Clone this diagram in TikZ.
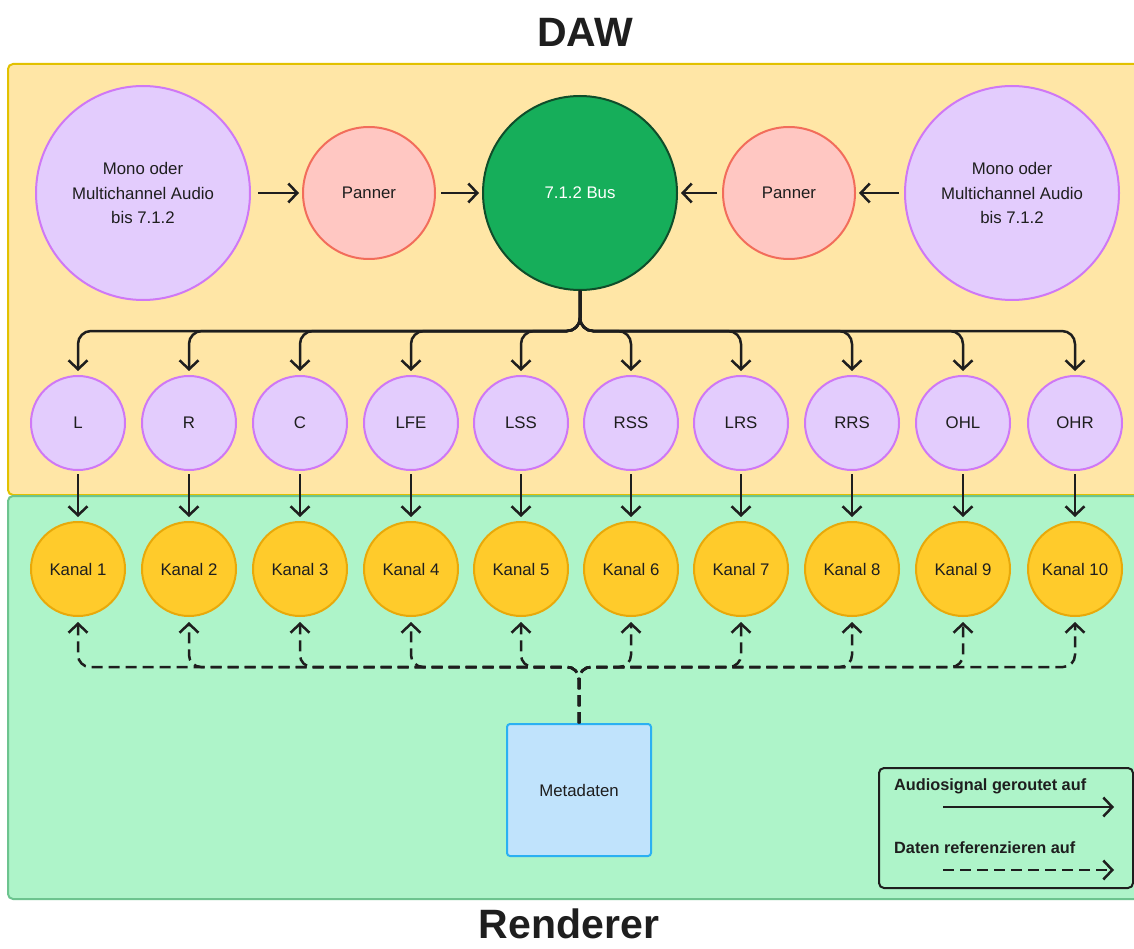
\documentclass[tikz,border=0pt]{standalone}
\usepackage{fontspec}
\setmainfont{Liberation Sans}
\usetikzlibrary{arrows.meta}
\definecolor{ink}{HTML}{1E1E1E}
\definecolor{dawfill}{HTML}{FFE6A6}
\definecolor{dawline}{HTML}{E2C100}
\definecolor{renfill}{HTML}{AEF4C9}
\definecolor{renline}{HTML}{6DC48F}
\definecolor{purfill}{HTML}{E3CCFD}
\definecolor{purline}{HTML}{CF78F5}
\definecolor{panfill}{HTML}{FFC7C2}
\definecolor{panline}{HTML}{F26D5B}
\definecolor{busfill}{HTML}{16AE5A}
\definecolor{busline}{HTML}{0F4D2A}
\definecolor{kanfill}{HTML}{FFCB2B}
\definecolor{kanline}{HTML}{E8A90A}
\definecolor{metafill}{HTML}{C0E3FC}
\definecolor{metaline}{HTML}{2BB0F2}
\tikzset{
  txt/.style={font=\fontsize{16.8}{24.5}\selectfont, text=ink, align=center},
  circ/.style={circle, draw, line width=2pt, inner sep=0pt, txt},
  bigsrc/.style={circ, fill=purfill, draw=purline, minimum size=214pt},
  pannode/.style={circ, fill=panfill, draw=panline, minimum size=132pt},
  busnode/.style={circ, fill=busfill, draw=busline, minimum size=194pt, text=white},
  chan/.style={circ, fill=purfill, draw=purline, minimum size=94pt},
  kanal/.style={circ, fill=kanfill, draw=kanline, minimum size=94pt},
  metabox/.style={rectangle, draw=metaline, fill=metafill, line width=2pt, rounded corners=3pt, minimum width=144pt, minimum height=132pt, txt},
  legendbox/.style={rectangle, draw=ink, line width=2pt, rounded corners=5pt, minimum width=254pt, minimum height=120pt},
  legtxt/.style={font=\bfseries\fontsize{16.3}{19}\selectfont, text=ink, anchor=west, inner sep=0pt},
  title/.style={font=\bfseries\fontsize{41}{48}\selectfont, text=ink, anchor=base, inner sep=0pt},
  arr/.style={draw=ink, line width=2.5pt, -{Straight Barb[length=9pt,width=19pt,line width=2.5pt]}},
  darr/.style={arr, dash pattern=on 11pt off 6pt},
}
\begin{document}
\begin{tikzpicture}[x=1pt,y=-1pt]
\useasboundingbox (0,0) rectangle (1134,949);
\fill[white] (0,0) rectangle (1134,949);
% panels
\draw[fill=dawfill, draw=dawline, line width=2pt, rounded corners=5pt] (8,64) rectangle (1150,495);
\draw[fill=renfill, draw=renline, line width=2pt, rounded corners=5pt] (8,496) rectangle (1150,899);
% titles
\node[title] (tdaw) at (585,47) {DAW};
\node[title] (tren) at (569,938) {Renderer};
% top row
\node[bigsrc] (srcL) at (143,193) {Mono oder\\Multichannel Audio\\bis 7.1.2};
\node[pannode] (panL) at (369,193) {Panner};
\node[busnode] (bus) at (580,193) {7.1.2 Bus};
\node[pannode] (panR) at (789,193) {Panner};
\node[bigsrc] (srcR) at (1012,193) {Mono oder\\Multichannel Audio\\bis 7.1.2};
\draw[arr, shorten <=7pt, shorten >=3pt] (srcL) -- (panL);
\draw[arr, shorten <=5pt, shorten >=3pt] (panL) -- (bus);
\draw[arr, shorten <=5pt, shorten >=3pt] (panR) -- (bus);
\draw[arr, shorten <=5pt, shorten >=3pt] (srcR) -- (panR);
% channels
\foreach \i/\x/\c in {1/78/L, 2/189/R, 3/300/C, 4/411/LFE, 5/521/LSS, 6/631/RSS, 7/741/LRS, 8/852/RRS, 9/963/OHL, 10/1075/OHR}{
  \node[chan] (ch\i) at (\x,423) {\c};
  \node[kanal] (k\i) at (\x,569) {Kanal \i};
  \draw[arr, rounded corners=13pt, shorten >=4pt] (bus.south) -- ++(0,40) -| (ch\i.north);
  \draw[arr, shorten <=3pt, shorten >=4pt] (ch\i) -- (k\i);
}
% metadata
\node[metabox] (meta) at (579,790) {Metadaten};
\foreach \i in {1,...,10}{
  \draw[darr, rounded corners=12pt, shorten >=5pt] (meta.north) -- ++(0,-56) -| (k\i.south);
}
% legend
\node[legendbox] (legend) at (1006,828) {};
\node[legtxt] (l1) at (894,786) {Audiosignal geroutet auf};
\node[legtxt] (l2) at (894,848) {Daten referenzieren auf};
\coordinate (a1s) at (943,807);
\coordinate (a1e) at (1114,807);
\coordinate (a2s) at (943,870);
\coordinate (a2e) at (1114,870);
\draw[arr] (a1s) -- (a1e);
\draw[darr] (a2s) -- (a2e);
\end{tikzpicture}
\end{document}
